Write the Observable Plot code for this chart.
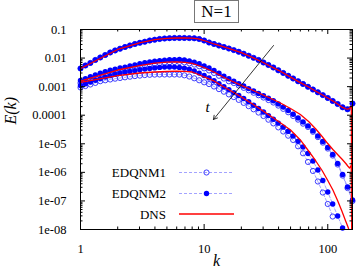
<!DOCTYPE html>
<html><head><meta charset="utf-8">
<script src="https://cdn.jsdelivr.net/npm/d3@7"></script>
<script src="https://cdn.jsdelivr.net/npm/@observablehq/plot@0.6"></script>
<style>
html,body{margin:0;padding:0;background:#fff;}
#wrap{position:relative;width:356px;height:273px;font-family:"Liberation Serif","DejaVu Serif",serif;}
#title{position:absolute;left:194px;top:0px;width:43px;height:21px;border:1px solid #777;text-align:center;font-size:17px;line-height:22px;background:#fff;color:#000;}
</style></head><body><div id="wrap"></div>
<script>
// EDQNM wavenumbers (log-spaced)
const kE = [1,1.096,1.202,1.318,1.445,1.585,1.738,1.905,2.089,2.291,2.512,2.754,3.020,3.311,3.631,3.981,4.365,4.786,5.248,5.754,6.310,6.918,7.586,8.318,9.120,10,10.96,12.02,13.18,14.45,15.85,17.38,19.05,20.89,22.91,25.12,27.54,30.20,33.11,36.31,39.81,43.65,47.86,52.48,57.54,63.10,69.18,75.86,83.18,91.20,100,109.6,120.2,131.8,144.5,158.5];
// time 1 (EDQNM1 and EDQNM2 coincide)
const edq_t1 = [4.33e-3,5.51e-3,6.75e-3,8.59e-3,1.05e-2,1.28e-2,1.57e-2,1.85e-2,2.13e-2,2.44e-2,2.76e-2,3.11e-2,3.43e-2,3.74e-2,4.12e-2,4.40e-2,4.66e-2,4.84e-2,4.97e-2,5.05e-2,5.05e-2,5.05e-2,5.00e-2,4.92e-2,4.66e-2,4.12e-2,3.51e-2,3.11e-2,2.75e-2,2.44e-2,2.16e-2,1.90e-2,1.66e-2,1.42e-2,1.21e-2,1.02e-2,8.57e-3,7.00e-3,5.73e-3,4.68e-3,3.73e-3,3.01e-3,2.40e-3,1.93e-3,1.54e-3,1.24e-3,9.89e-4,7.94e-4,6.34e-4,5.06e-4,4.01e-4,3.15e-4,2.47e-4,1.89e-4,1.61e-4,2.57e-4];
// time 2
const edq2_t2 = [1.64e-3,1.90e-3,2.21e-3,2.55e-3,2.98e-3,3.33e-3,3.73e-3,4.11e-3,4.49e-3,4.83e-3,5.28e-3,5.77e-3,6.35e-3,6.89e-3,7.35e-3,7.77e-3,8.15e-3,8.49e-3,8.70e-3,8.84e-3,8.91e-3,8.63e-3,7.96e-3,7.23e-3,6.30e-3,5.32e-3,4.49e-3,3.67e-3,2.93e-3,2.34e-3,1.88e-3,1.54e-3,1.26e-3,1.05e-3,8.54e-4,7.04e-4,5.75e-4,4.78e-4,3.91e-4,3.19e-4,2.49e-4,1.92e-4,1.46e-4,1.08e-4,8.05e-5,5.83e-5,4.23e-5,2.87e-5,1.87e-5,1.20e-5,7.41e-6,4.22e-6,2.04e-6,8.41e-7,3.07e-7,1.08e-7];
const edq1_t2 = [1.34e-3,1.56e-3,1.81e-3,2.09e-3,2.44e-3,2.73e-3,3.06e-3,3.37e-3,3.68e-3,3.96e-3,4.33e-3,4.73e-3,5.21e-3,5.65e-3,6.03e-3,6.37e-3,6.68e-3,6.96e-3,7.13e-3,7.25e-3,7.31e-3,7.08e-3,6.53e-3,5.93e-3,5.17e-3,4.36e-3,3.68e-3,3.01e-3,2.40e-3,1.92e-3,1.54e-3,1.34e-3,1.10e-3,9.1e-4,7.43e-4,6.12e-4,5.00e-4,4.16e-4,3.40e-4,2.78e-4,2.17e-4,1.67e-4,1.27e-4,9.4e-5,7.0e-5,5.07e-5,3.89e-5,2.64e-5,1.72e-5,1.10e-5,6.82e-6,3.88e-6,1.88e-6,7.74e-7,2.82e-7,9.9e-8];
// time 3
const edq2_t3 = [1.10e-3,1.27e-3,1.45e-3,1.68e-3,1.91e-3,2.16e-3,2.43e-3,2.70e-3,2.95e-3,3.18e-3,3.41e-3,3.64e-3,3.89e-3,4.11e-3,4.32e-3,4.53e-3,4.72e-3,4.83e-3,4.87e-3,4.83e-3,4.72e-3,4.46e-3,4.05e-3,3.53e-3,2.98e-3,2.45e-3,2.02e-3,1.60e-3,1.28e-3,1.00e-3,7.88e-4,6.19e-4,4.90e-4,3.85e-4,2.95e-4,2.24e-4,1.72e-4,1.30e-4,9.69e-5,7.19e-5,5.30e-5,3.84e-5,2.74e-5,1.87e-5,1.23e-5,7.72e-6,4.57e-6,2.50e-6,1.21e-6,5.19e-7,2.05e-7,7.81e-8,2.97e-8,1.13e-8,null,null];
const edq1_t3 = [9.33e-4,1.05e-3,1.19e-3,1.35e-3,1.55e-3,1.67e-3,1.78e-3,1.90e-3,2.01e-3,2.12e-3,2.23e-3,2.34e-3,2.43e-3,2.54e-3,2.60e-3,2.64e-3,2.66e-3,2.66e-3,2.66e-3,2.66e-3,2.64e-3,2.49e-3,2.26e-3,1.96e-3,1.67e-3,1.42e-3,1.23e-3,1.01e-3,8.20e-4,6.65e-4,5.35e-4,4.31e-4,3.44e-4,2.70e-4,2.08e-4,1.61e-4,1.24e-4,9.39e-5,6.97e-5,5.17e-5,3.75e-5,2.69e-5,1.92e-5,1.36e-5,8.17e-6,4.65e-6,2.32e-6,1.12e-6,4.79e-7,1.97e-7,7.81e-8,2.85e-8,null,null,null,null];
// DNS wavenumbers and spectra
const kD = [1,2,3,4,5,6,7,8,9,10,12,14,16,20,25,30,40,50,60,70,80,90,100,110,120,130,140,145,150,155,158];
const dns_t1 = [4.33e-3,2.0e-2,3.43e-2,4.40e-2,4.9e-2,5.05e-2,5.05e-2,4.97e-2,4.7e-2,4.12e-2,3.11e-2,2.55e-2,2.14e-2,1.54e-2,1.02e-2,7.0e-3,3.73e-3,2.15e-3,1.39e-3,9.7e-4,6.9e-4,5.2e-4,4.0e-4,3.15e-4,2.47e-4,1.93e-4,1.68e-4,1.62e-4,1.70e-4,2.1e-4,1e-12];
const dns_t2 = [1.55e-3,3.82e-3,5.41e-3,6.61e-3,7.16e-3,7.29e-3,7.07e-3,6.56e-3,5.50e-3,4.68e-3,3.25e-3,2.26e-3,1.71e-3,1.10e-3,7.33e-4,5.10e-4,2.90e-4,1.72e-4,1.06e-4,6.03e-5,3.29e-5,1.80e-5,1.02e-5,6.31e-6,4.22e-6,2.93e-6,2.04e-6,1.67e-6,1.42e-6,1.74e-6,1e-12];
const dns_t3 = [1.40e-3,2.45e-3,3.00e-3,3.25e-3,3.39e-3,3.47e-3,3.45e-3,3.25e-3,2.66e-3,2.18e-3,1.58e-3,1.05e-3,7.63e-4,4.34e-4,2.37e-4,1.40e-4,6.03e-5,3.04e-5,1.36e-5,5.59e-6,2.50e-6,1.16e-6,5.19e-7,2.41e-7,1.04e-7,4.44e-8,1.91e-8,1.3e-8,8.5e-9,5.0e-9,1e-12];
// axes
const xTicks = [1,10,100];
const yTicks = [1e-8,1e-7,1e-6,1e-5,1e-4,1e-3,1e-2,1e-1];
const yTickLabels = ["1e-08","1e-07","1e-06","1e-05","0.0001","0.001","0.01","0.1"];
const legendNames = ["EDQNM1","EDQNM2","DNS"];
const titleText = "N=1";
// arrow annotation (k, E)
const arrowK = [36.4, 11.9];
const arrowE = [0.0275, 7.1e-5];
const tLabel = {k: 10.65, E: 1.86e-4, text: "t"};

const rows = (k, v, t) => k.map((kk, i) => ({k: kk, E: v[i], t})).filter(d => d.E != null);
const e1 = [...rows(kE, edq_t1, 1), ...rows(kE, edq1_t2, 2), ...rows(kE, edq1_t3, 3)];
const e2 = [...rows(kE, edq_t1, 1), ...rows(kE, edq2_t2, 2), ...rows(kE, edq2_t3, 3)];
const dns = [...rows(kD, dns_t1, 1), ...rows(kD, dns_t2, 2), ...rows(kD, dns_t3, 3)];

const xMinor = [], yMinor = [];
for (const d of [1, 10]) for (let m = 2; m <= 9; m++) xMinor.push(m * d);
for (let e = -8; e <= -2; e++) for (let m = 2; m <= 9; m++) yMinor.push(m * Math.pow(10, e));

const ML = 80, MR = 4, MT = 29, MB = 44, WIDTH = 356, HEIGHT = 273;
const PW = WIDTH - ML - MR, PH = HEIGHT - MT - MB;
const BLUE = "#0000ff", OPEN = "#3c3cff", DASH = "#8c8cff", RED = "#ff0000";

const chart = Plot.plot({
  width: WIDTH, height: HEIGHT,
  marginLeft: ML, marginRight: MR, marginTop: MT, marginBottom: MB,
  style: {fontFamily: "'Liberation Serif', serif", fontSize: "12.5px", background: "#fff", color: "#000", overflow: "visible"},
  x: {type: "log", domain: [1, 158.5]},
  y: {type: "log", domain: [1e-8, 0.1]},
  marks: [
    Plot.line(e1, {x: "k", y: "E", z: "t", stroke: DASH, strokeWidth: 0.8, strokeDasharray: "3,2"}),
    Plot.dot(e1, {x: "k", y: "E", r: 2.6, stroke: OPEN, strokeWidth: 1, fill: "none"}),
    Plot.line(e2, {x: "k", y: "E", z: "t", stroke: DASH, strokeWidth: 0.8, strokeDasharray: "3,2"}),
    Plot.dot(e2, {x: "k", y: "E", r: 2.7, fill: BLUE, stroke: "none"}),
    Plot.line(dns, {x: "k", y: "E", z: "t", stroke: RED, strokeWidth: 1.3, clip: true}),
    // ticks inward on all sides
    Plot.ruleX(xTicks, {insetTop: PH - 5, stroke: "#000"}),
    Plot.ruleX(xTicks, {insetBottom: PH - 5, stroke: "#000"}),
    Plot.ruleX(xMinor, {insetTop: PH - 2.5, stroke: "#000"}),
    Plot.ruleX(xMinor, {insetBottom: PH - 2.5, stroke: "#000"}),
    Plot.ruleY(yTicks, {insetRight: PW - 5, stroke: "#000"}),
    Plot.ruleY(yTicks, {insetLeft: PW - 5, stroke: "#000"}),
    Plot.ruleY(yMinor, {insetRight: PW - 2.5, stroke: "#000"}),
    Plot.ruleY(yMinor, {insetLeft: PW - 2.5, stroke: "#000"}),
    Plot.frame({stroke: "#000"}),
    Plot.axisX(xTicks, {tickSize: 0, tickPadding: 15, tickFormat: d => String(d), label: null, fontSize: 12.5}),
    Plot.axisY(yTicks, {tickSize: 0, tickPadding: 14, tickFormat: d => yTickLabels[yTicks.indexOf(d)], label: null, fontSize: 12.5}),
    Plot.arrow([0], {x1: () => arrowK[0], y1: () => arrowE[0], x2: () => arrowK[1], y2: () => arrowE[1], stroke: "#000", strokeWidth: 0.8, headLength: 8}),
    Plot.text([tLabel], {x: "k", y: "E", text: "text", fontStyle: "italic", fontSize: 15}),
    Plot.text(["k"], {frameAnchor: "bottom", dy: 36, text: d => d, fontStyle: "italic", fontSize: 16}),
    Plot.text(["E(k)"], {frameAnchor: "left", dx: -70, dy: -5, rotate: -90, text: d => d, fontStyle: "italic", fontSize: 16})
  ]
});

const wrap = document.getElementById("wrap");
wrap.appendChild(chart);
const title = document.createElement("div");
title.id = "title";
title.textContent = titleText;
wrap.appendChild(title);

// legend
const svg = d3.select(chart);
const lg = svg.append("g").attr("font-family", "'Liberation Serif', serif").attr("font-size", 13);
const ly = [172.5, 193.5, 214];
legendNames.forEach((name, i) => {
  const y = ly[i];
  lg.append("text").attr("x", 166).attr("y", y).attr("dy", "0.35em").attr("text-anchor", "end").attr("fill", "#000").text(name);
  if (i < 2) {
    lg.append("line").attr("x1", 179).attr("x2", 234).attr("y1", y).attr("y2", y)
      .attr("stroke", DASH).attr("stroke-width", 0.8).attr("stroke-dasharray", "3,2");
    const c = lg.append("circle").attr("cx", 206.5).attr("cy", y).attr("r", i === 0 ? 2.6 : 2.7);
    if (i === 0) c.attr("fill", "none").attr("stroke", OPEN).attr("stroke-width", 1);
    else c.attr("fill", BLUE);
  } else {
    lg.append("line").attr("x1", 179).attr("x2", 234).attr("y1", y).attr("y2", y)
      .attr("stroke", RED).attr("stroke-width", 1.3);
  }
});
</script></body></html>
